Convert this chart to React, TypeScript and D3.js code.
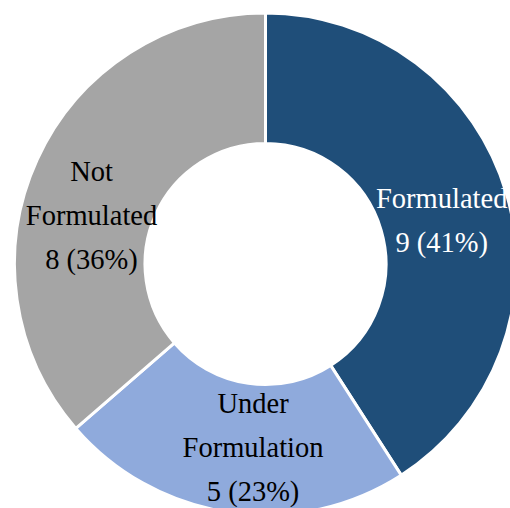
import React from "react";
import * as d3 from "d3";

const categories = ["Formulated", "Under Formulation", "Not Formulated"];
const values = [9, 5, 8];
const labelLines = [["Formulated"], ["Under", "Formulation"], ["Not", "Formulated"]];
const colors = ["#1F4E79", "#8FAADC", "#A5A5A5"];
const textColors = ["#FFFFFF", "#000000", "#000000"];
const nudges = [[-2, 9], [14, 0], [-5, 29]];

const W = 510;
const H = 508;
const cx = 265.5;
const cy = 264;
const outerR = 251;
const innerR = 120.5;
const fontSize = 28.5;
const lineGap = 44;

export default function App() {
  const total = d3.sum(values);
  const pie = d3.pie<number>().sort(null).value((d) => d)(values);
  const arc = d3.arc<d3.PieArcDatum<number>>().innerRadius(innerR).outerRadius(outerR);
  const labelArc = d3.arc<d3.PieArcDatum<number>>().innerRadius((innerR + outerR) / 2).outerRadius((innerR + outerR) / 2);
  return (
    <svg width={W} height={H} style={{ position: "absolute", left: 0, top: 0 }}>
      <rect width={W} height={H} fill="#fff" />
      <g transform={`translate(${cx},${cy})`}>
        {pie.map((p, i) => (
          <path key={categories[i]} d={arc(p) || ""} fill={colors[i]} stroke="#fff" strokeWidth={3} strokeLinejoin="round" />
        ))}
        {pie.map((p, i) => {
          const [x, y] = labelArc.centroid(p);
          const lines = [...labelLines[i], `${values[i]} (${Math.round((values[i] / total) * 100)}%)`];
          const n = lines.length;
          const lx = x + nudges[i][0];
          const ly = y + nudges[i][1];
          return (
            <text key={"t" + i} x={lx} y={ly} textAnchor="middle" fill={textColors[i]}
              fontFamily="'Liberation Serif', 'Times New Roman', serif" fontSize={fontSize}>
              {lines.map((l, j) => (
                <tspan key={j} x={lx} y={ly + (j - (n - 1) / 2) * lineGap + fontSize * 0.33}>{l}</tspan>
              ))}
            </text>
          );
        })}
      </g>
    </svg>
  );
}
